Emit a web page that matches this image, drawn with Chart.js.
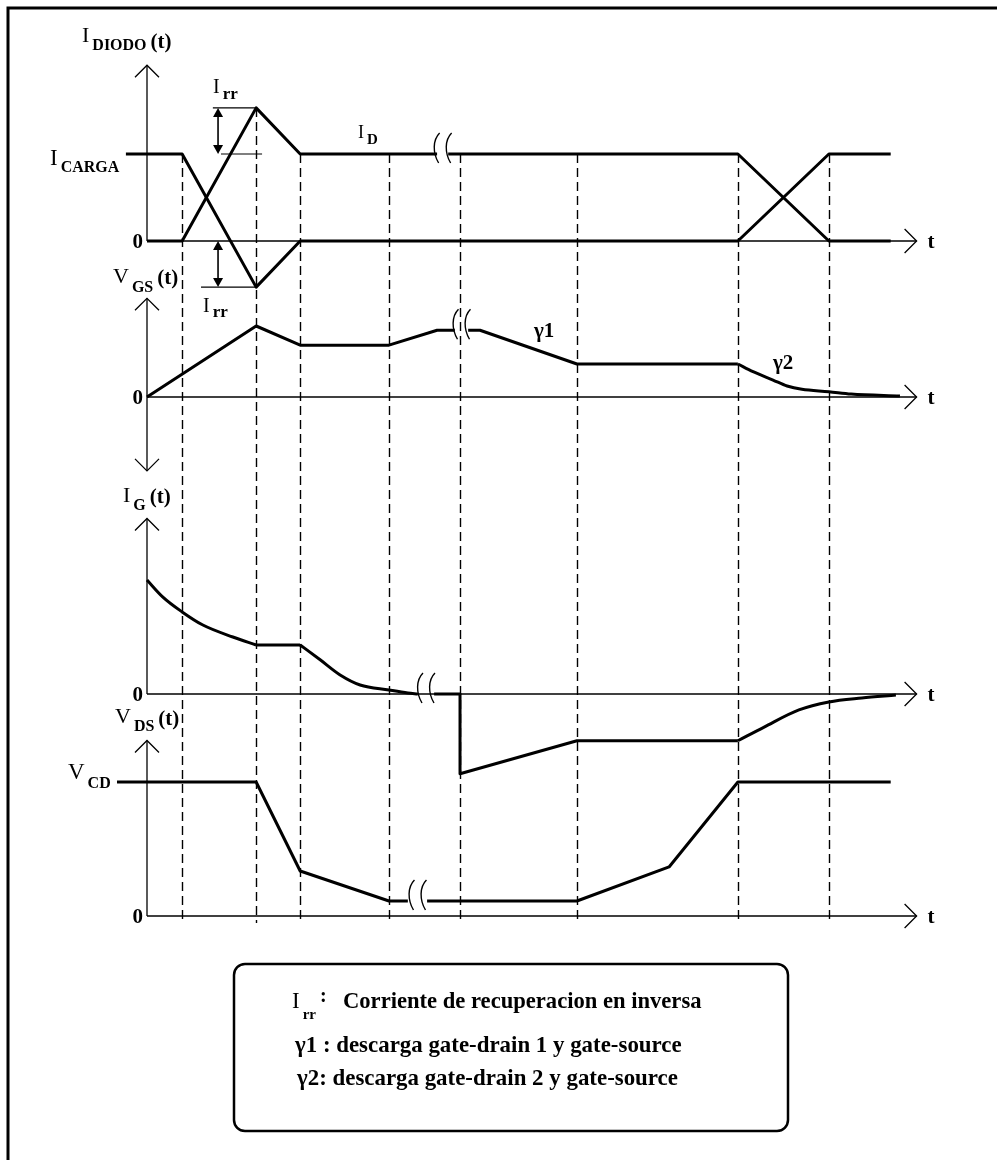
<!DOCTYPE html>
<html lang="es">
<head>
<meta charset="utf-8">
<title>Conmutación del MOSFET con diodo de libre circulación</title>
<script src="https://cdn.jsdelivr.net/npm/chart.js@4.4.1/dist/chart.umd.min.js"></script>
<style>
  html, body { margin: 0; padding: 0; background: #fff; }
  canvas { display: block; }
</style>
</head>
<body>
<canvas id="ondas" width="997" height="1160"></canvas>
<script>
// Instantes de conmutación (escala de tiempo no proporcional)
const tEventos = [0.95, 2.95, 4.14, 6.54, 8.46, 11.62, 15.97, 18.43];
const tEje = 20.8;

// I_DIODO(t): corriente por el canal y por el diodo, normalizadas a I_CARGA = 1
const iCanalT = [0, 0.95, 2.95, 4.14, 7.84, 7.99, 8.14, 15.97, 18.43, 20.1];
const iCanalV = [0, 0, 1.53, 1, 1, null, 1, 1, 0, 0];
const iDiodoT = [-0.57, 0.95, 2.95, 4.14, 15.97, 18.43, 20.1];
const iDiodoV = [1, 1, -0.53, 0, 0, 1, 1];
const picoIrr = 1.53;
const valleIrr = -0.53;

// V_GS(t)
const vgsT = [0, 2.95, 4.14, 6.54, 7.84, 8.32, 8.5, 8.68, 9.0, 11.62, 15.97];
const vgsV = [0, 1, 0.73, 0.73, 0.94, 0.94, null, 0.94, 0.94, 0.465, 0.465];
const vgsColaT = [15.97, 16.38, 16.92, 17.30, 17.70, 18.43, 19.03, 20.35];
const vgsColaV = [0.465, 0.356, 0.239, 0.155, 0.108, 0.075, 0.042, 0.014];

// I_G(t)
const igCargaT = [0, 0.43, 0.95, 1.51, 2.32, 2.95];
const igCargaV = [1, 0.85, 0.72, 0.605, 0.5, 0.43];
const igMesetaT = [2.95, 4.14];
const igMesetaV = [0.43, 0.43];
const igBajadaT = [4.14, 4.68, 5.22, 5.76, 6.54, 7.05, 7.32];
const igBajadaV = [0.43, 0.30, 0.167, 0.079, 0.035, 0.009, 0];
const igInversaT = [7.76, 8.46, 8.46, 11.62, 15.97];
const igInversaV = [0, 0, -0.70, -0.41, -0.41];
const igColaT = [15.97, 16.68, 17.62, 18.43, 19.32, 20.24];
const igColaV = [-0.41, -0.29, -0.14, -0.07, -0.035, -0.009];

// V_DS(t), normalizada a V_CD = 1
const vdsT = [-0.81, 2.95, 4.14, 6.54, 7.05, 7.31, 7.57, 11.62, 14.11, 15.97, 20.1];
const vdsV = [1, 1, 0.336, 0.112, 0.112, null, 0.112, 0.112, 0.366, 1, 1];

// Cortes de escala (t, nivel) por gráfica
const cortesT = [7.99, 8.5, 7.54, 7.31];
const cortesV = [1, 0.94, 0, 0.112];

// Textos
const leyenda = [
  'Corriente de recuperacion en inversa',
  'γ1 : descarga gate-drain 1 y gate-source',
  'γ2: descarga gate-drain 2 y gate-source'
];

// Disposición vertical de las cuatro gráficas
const AREA_SUP = 40, AREA_INF = 940;
const paneles = [
  { id: 'y1', cero: 241, unidad: 87, arriba: 2.02, abajo: 0 },
  { id: 'y2', cero: 397, unidad: 71, arriba: 1.39, abajo: -1.04 },
  { id: 'y3', cero: 694, unidad: 114, arriba: 1.54, abajo: 0 },
  { id: 'y4', cero: 916, unidad: 134, arriba: 1.31, abajo: 0 }
];

const SERIF = '"Liberation Serif", "Times New Roman", serif';

function serie(ts, vs) {
  return ts.map((t, i) => ({ x: t, y: vs[i] }));
}

function trazo(ts, vs, eje, curva) {
  return {
    data: serie(ts, vs),
    xAxisID: 'x',
    yAxisID: eje,
    borderColor: '#000',
    borderWidth: 3,
    pointRadius: 0,
    fill: false,
    spanGaps: false,
    tension: curva ? 0.4 : 0,
    cubicInterpolationMode: curva ? 'monotone' : 'default',
    borderJoinStyle: 'round',
    clip: false
  };
}

function linea(ctx, x1, y1, x2, y2) {
  ctx.beginPath();
  ctx.moveTo(x1, y1);
  ctx.lineTo(x2, y2);
  ctx.stroke();
}

// punta de flecha abierta (ejes)
function chevron(ctx, x, y, dir) {
  const a = 12;
  ctx.beginPath();
  if (dir === 'up') { ctx.moveTo(x - a, y + a); ctx.lineTo(x, y); ctx.lineTo(x + a, y + a); }
  if (dir === 'down') { ctx.moveTo(x - a, y - a); ctx.lineTo(x, y); ctx.lineTo(x + a, y - a); }
  if (dir === 'right') { ctx.moveTo(x - a, y - a); ctx.lineTo(x, y); ctx.lineTo(x - a, y + a); }
  ctx.stroke();
}

// punta de flecha rellena (cotas de I_rr)
function punta(ctx, x, y, arriba) {
  const s = arriba ? 1 : -1;
  ctx.beginPath();
  ctx.moveTo(x, y);
  ctx.lineTo(x - 5, y + s * 9);
  ctx.lineTo(x + 5, y + s * 9);
  ctx.closePath();
  ctx.fill();
}

function cota(ctx, x, yA, yB) {
  ctx.lineWidth = 1.6;
  linea(ctx, x, yA + 4, x, yB - 4);
  punta(ctx, x, yA, true);
  punta(ctx, x, yB, false);
}

function corte(ctx, px, py) {
  ctx.lineWidth = 1.4;
  [-6, 6].forEach(dx => {
    const cx = px + dx;
    ctx.beginPath();
    ctx.moveTo(cx + 3, py - 21);
    ctx.bezierCurveTo(cx - 4, py - 14, cx - 4, py - 1, cx + 2, py + 9);
    ctx.stroke();
  });
}

function texto(ctx, s, x, y, size, bold, align) {
  ctx.font = (bold ? 'bold ' : '') + size + 'px ' + SERIF;
  ctx.textAlign = align || 'left';
  ctx.textBaseline = 'alphabetic';
  ctx.fillText(s, x, y);
  return ctx.measureText(s).width;
}

// letra con subíndice en negrita y sufijo opcional "(t)"
function simbolo(ctx, x, y, base, sub, o) {
  let cx = x + texto(ctx, base, x, y, o.b, false) + 3;
  cx += texto(ctx, sub, cx, y + o.d, o.s, true) + 4;
  if (o.suf) texto(ctx, o.suf, cx, y + (o.fd || 0), o.f, true);
}

const dibujo = {
  id: 'dibujo',
  beforeDatasetsDraw(chart) {
    const { ctx, scales } = chart;
    const sx = scales.x;
    const x0 = sx.getPixelForValue(0);
    const xt = sx.getPixelForValue(tEje);
    ctx.save();
    ctx.strokeStyle = '#000';
    ctx.fillStyle = '#000';

    // marco
    ctx.lineWidth = 3;
    ctx.beginPath();
    ctx.moveTo(8, 1160); ctx.lineTo(8, 8); ctx.lineTo(997, 8);
    ctx.stroke();

    // ejes de cada gráfica
    ctx.lineWidth = 1.3;
    paneles.forEach(p => {
      const ys = scales[p.id];
      const y0 = ys.getPixelForValue(0);
      const yA = ys.getPixelForValue(p.arriba);
      const yB = ys.getPixelForValue(p.abajo);
      linea(ctx, x0, yB, x0, yA);
      chevron(ctx, x0, yA, 'up');
      if (p.abajo < 0) chevron(ctx, x0, yB, 'down');
      linea(ctx, x0, y0, xt, y0);
      chevron(ctx, xt, y0, 'right');
      texto(ctx, 't', xt + 11, y0 + 7, 21, true);
      texto(ctx, '0', x0 - 4, y0 + 7, 21, true, 'right');
    });

    // líneas de referencia verticales
    ctx.setLineDash([9, 5]);
    ctx.lineWidth = 1.4;
    const yFondo = scales.y4.getPixelForValue(0) + 7;
    tEventos.forEach((t, i) => {
      const px = Math.round(sx.getPixelForValue(t)) + 0.5;
      const yIni = scales.y1.getPixelForValue(i === 1 ? picoIrr : 1);
      linea(ctx, px, yIni, px, yFondo);
    });
    ctx.setLineDash([]);
    ctx.restore();
  },
  afterDatasetsDraw(chart) {
    const { ctx, scales } = chart;
    const sx = scales.x, y1 = scales.y1;
    const X = v => sx.getPixelForValue(v);
    ctx.save();
    ctx.strokeStyle = '#000';
    ctx.fillStyle = '#000';

    // cotas de la corriente de recuperación inversa
    const yPico = y1.getPixelForValue(picoIrr);
    const yCarga = y1.getPixelForValue(1);
    const yCero = y1.getPixelForValue(0);
    const yValle = y1.getPixelForValue(valleIrr);
    ctx.lineWidth = 1.2;
    linea(ctx, X(1.78), yPico, X(tEventos[1]), yPico);
    linea(ctx, X(2.0), yCarga, X(3.11), yCarga);
    linea(ctx, X(1.46), yValle, X(tEventos[1]), yValle);
    cota(ctx, X(1.92), yPico, yCarga);
    cota(ctx, X(1.92), yCero, yValle);

    // cortes de escala
    paneles.forEach((p, i) => {
      corte(ctx, X(cortesT[i]), scales[p.id].getPixelForValue(cortesV[i]));
    });

    // rótulos de los ejes
    simbolo(ctx, 82, 42, 'I', 'DIODO', { b: 22, s: 16, d: 8, suf: '(t)', f: 21, fd: 6 });
    simbolo(ctx, 50, 165, 'I', 'CARGA', { b: 23, s: 16, d: 7 });
    simbolo(ctx, 113, 283, 'V', 'GS', { b: 22, s: 16, d: 9, suf: '(t)', f: 21, fd: 1 });
    simbolo(ctx, 123, 502, 'I', 'G', { b: 22, s: 16, d: 8, suf: '(t)', f: 21, fd: 1 });
    simbolo(ctx, 115, 723, 'V', 'DS', { b: 22, s: 16, d: 8, suf: '(t)', f: 21, fd: 2 });
    simbolo(ctx, 68, 779, 'V', 'CD', { b: 23, s: 16, d: 9 });
    simbolo(ctx, 213, 93, 'I', 'rr', { b: 20, s: 17, d: 6 });
    simbolo(ctx, 203, 312, 'I', 'rr', { b: 20, s: 17, d: 5 });
    simbolo(ctx, 358, 138, 'I', 'D', { b: 18, s: 15, d: 6 });
    texto(ctx, 'γ1', 534, 337, 21, true);
    texto(ctx, 'γ2', 773, 369, 21, true);

    // recuadro de la leyenda
    ctx.lineWidth = 2.5;
    ctx.beginPath();
    ctx.roundRect(234, 964, 554, 167, 11);
    ctx.stroke();
    simbolo(ctx, 292, 1008, 'I', 'rr', { b: 23, s: 15, d: 11 });
    texto(ctx, ':', 320, 1002, 20, true);
    texto(ctx, leyenda[0], 343, 1008, 22.6, true);
    texto(ctx, leyenda[1], 295, 1052, 22.9, true);
    texto(ctx, leyenda[2], 297, 1085, 22.9, true);
    ctx.restore();
  }
};

const escalas = {
  x: { type: 'linear', display: false, min: -1, max: 21 }
};
paneles.forEach(p => {
  escalas[p.id] = {
    type: 'linear',
    display: false,
    min: (p.cero - AREA_INF) / p.unidad,
    max: (p.cero - AREA_SUP) / p.unidad
  };
});

new Chart(document.getElementById('ondas'), {
  type: 'line',
  data: {
    datasets: [
      trazo(iCanalT, iCanalV, 'y1', false),
      trazo(iDiodoT, iDiodoV, 'y1', false),
      trazo(vgsT, vgsV, 'y2', false),
      trazo(vgsColaT, vgsColaV, 'y2', true),
      trazo(igCargaT, igCargaV, 'y3', true),
      trazo(igMesetaT, igMesetaV, 'y3', false),
      trazo(igBajadaT, igBajadaV, 'y3', true),
      trazo(igInversaT, igInversaV, 'y3', false),
      trazo(igColaT, igColaV, 'y3', true),
      trazo(vdsT, vdsV, 'y4', false)
    ]
  },
  options: {
    responsive: false,
    animation: false,
    devicePixelRatio: 1,
    events: [],
    layout: { padding: { left: 110, right: 73, top: AREA_SUP, bottom: 1160 - AREA_INF } },
    scales: escalas,
    plugins: {
      legend: { display: false },
      tooltip: { enabled: false }
    }
  },
  plugins: [dibujo]
});
</script>
</body>
</html>
